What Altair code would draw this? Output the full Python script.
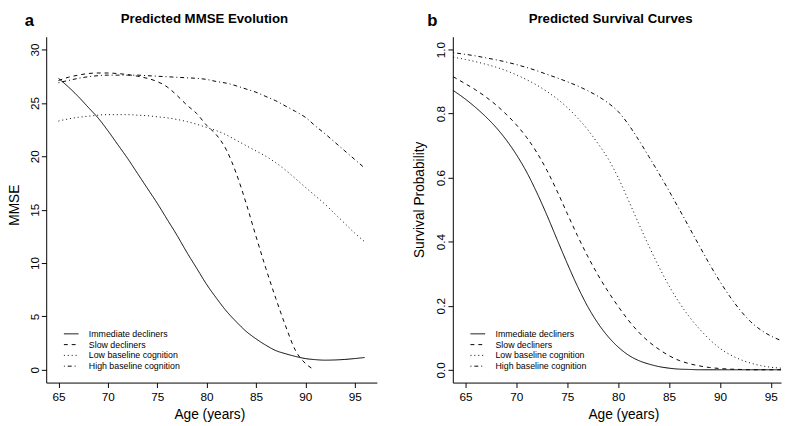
import altair as alt
import pandas as pd

FONT = "Liberation Sans"

groups = ["Immediate decliners", "Slow decliners", "Low baseline cognition", "High baseline cognition"]
dash_styles = [[1, 0], [4, 4], [1, 3], [1, 3, 4, 3]]

# ---- Panel a: predicted MMSE ----
mmse_age = list(range(65, 97))
mmse_immediate = [27.3, 26.5, 25.6, 24.6, 23.6, 22.4, 21.1, 19.8, 18.4, 17.0,
                  15.6, 14.1, 12.6, 11.0, 9.5, 8.0, 6.7, 5.5, 4.5, 3.6,
                  2.9, 2.3, 1.8, 1.5, 1.25, 1.05, 0.95, 0.9, 0.92, 0.97,
                  1.05, 1.15]
mmse_slow_age = list(range(65, 91)) + [90.8]
mmse_slow = [27.1, 27.4, 27.6, 27.75, 27.8, 27.8, 27.75, 27.65, 27.5, 27.3,
             27.0, 26.5, 25.7, 24.8, 24.0, 22.9, 22.0, 20.6, 18.4, 15.6,
             12.5, 9.5, 6.7, 4.1, 1.8, 0.6, 0.05]
mmse_low = [23.3, 23.5, 23.65, 23.75, 23.85, 23.9, 23.9, 23.9, 23.85, 23.8,
            23.7, 23.6, 23.45, 23.25, 23.0, 22.7, 22.4, 22.0, 21.5, 21.0,
            20.5, 20.0, 19.4, 18.7, 17.9, 17.1, 16.3, 15.5, 14.6, 13.7,
            12.8, 12.0]
mmse_high = [26.9, 27.1, 27.3, 27.45, 27.55, 27.6, 27.6, 27.6, 27.6, 27.55,
             27.5, 27.45, 27.4, 27.35, 27.3, 27.2, 27.0, 26.85, 26.6, 26.3,
             26.0, 25.6, 25.2, 24.7, 24.2, 23.65, 22.85, 22.1, 21.3, 20.5,
             19.7, 18.9]

# ---- Panel b: predicted survival ----
surv_age = [63.8] + list(range(65, 97))
surv_immediate = [0.872, 0.845, 0.819, 0.79, 0.757, 0.718, 0.672, 0.618, 0.554, 0.483,
                  0.407, 0.332, 0.261, 0.198, 0.146, 0.104, 0.071, 0.046, 0.029, 0.018,
                  0.01, 0.005, 0.002, 0.001, 0, 0, 0, 0, 0, 0,
                  0, 0, 0]
surv_slow = [0.915, 0.893, 0.874, 0.852, 0.827, 0.798, 0.765, 0.726, 0.679, 0.623,
             0.558, 0.488, 0.419, 0.355, 0.297, 0.245, 0.198, 0.155, 0.118, 0.088,
             0.064, 0.044, 0.029, 0.019, 0.012, 0.007, 0.004, 0.002, 0.001, 0,
             0, 0, 0]
surv_low = [0.976, 0.969, 0.962, 0.954, 0.945, 0.934, 0.921, 0.906, 0.889, 0.869,
            0.846, 0.819, 0.787, 0.75, 0.707, 0.66, 0.6, 0.53, 0.458, 0.388,
            0.322, 0.262, 0.21, 0.165, 0.127, 0.094, 0.067, 0.047, 0.032, 0.021,
            0.013, 0.008, 0.005]
surv_high = [0.99, 0.985, 0.98, 0.974, 0.968, 0.961, 0.953, 0.944, 0.934, 0.9225,
             0.9115, 0.8995, 0.8865, 0.8715, 0.8545, 0.8335, 0.8065, 0.7665, 0.7185, 0.6665,
             0.6135, 0.5585, 0.5015, 0.4435, 0.3855, 0.3285, 0.2755, 0.2275, 0.1855, 0.1505,
             0.1245, 0.1055, 0.0915]

x_ticks = [65, 70, 75, 80, 85, 90, 95]
mmse_ticks = [0, 5, 10, 15, 20, 25, 30]
surv_ticks = [0.0, 0.2, 0.4, 0.6, 0.8, 1.0]


def long_df(series):
    rows = []
    for g, ages, vals in series:
        for a, v in zip(ages, vals):
            rows.append({"age": a, "value": v, "group": g})
    return pd.DataFrame(rows)


mmse_df = long_df([
    (groups[0], mmse_age, mmse_immediate),
    (groups[1], mmse_slow_age, mmse_slow),
    (groups[2], mmse_age, mmse_low),
    (groups[3], mmse_age, mmse_high),
])
surv_df = long_df([
    (groups[0], surv_age, surv_immediate),
    (groups[1], surv_age, surv_slow),
    (groups[2], surv_age, surv_low),
    (groups[3], surv_age, surv_high),
])


def panel(df, x_dom, y_dom, y_ticks, y_fmt, y_title, y_title_x, y_title_y,
          x_title_x, title, title_x, letter, letter_x, width, height):
    xs = alt.Scale(domain=x_dom, nice=False, zero=False)
    ys = alt.Scale(domain=y_dom, nice=False, zero=False)
    x_axis = alt.Axis(values=x_ticks, title="Age (years)", domain=True, domainColor="black",
                      domainWidth=1, grid=False,
                      tickSize=5, tickColor="black", tickWidth=1,
                      labelFont=FONT, labelFontSize=12, labelPadding=4, labelColor="black",
                      labelFlush=False, labelOverlap=False,
                      titleFont=FONT, titleFontSize=14, titleFontWeight="normal",
                      titleColor="black", titleX=x_title_x, titleY=25.5,
                      titleBaseline="top", titleAlign="center")
    y_axis = alt.Axis(values=y_ticks, format=y_fmt, title=y_title, domain=True, domainColor="black",
                      domainWidth=1, grid=False,
                      tickSize=5, tickColor="black", tickWidth=1,
                      labelFont=FONT, labelFontSize=12, labelPadding=0, labelColor="black",
                      labelAngle=270, labelAlign="center", labelBaseline="bottom",
                      labelFlush=False, labelOverlap=False,
                      titleFont=FONT, titleFontSize=14, titleFontWeight="normal",
                      titleColor="black", titleAngle=270, titleX=y_title_x, titleY=y_title_y,
                      titleBaseline="bottom", titleAlign="center")
    legend = alt.Legend(orient="none", legendX=17.5, legendY=298, title=None,
                        symbolType="stroke", symbolSize=225, symbolStrokeWidth=1,
                        symbolStrokeColor="black", labelFont=FONT, labelFontSize=9,
                        labelColor="black", labelOffset=10, clipHeight=10.5,
                        rowPadding=0, padding=0, labelLimit=300)
    lines = alt.Chart(df).mark_line(color="black", strokeWidth=1,
                                    interpolate="monotone").encode(
        x=alt.X("age:Q", scale=xs, axis=x_axis),
        y=alt.Y("value:Q", scale=ys, axis=y_axis),
        strokeDash=alt.StrokeDash("group:N", scale=alt.Scale(domain=groups, range=dash_styles),
                                  legend=legend),
        order=alt.Order("age:Q"),
    )
    ttl = alt.Chart(pd.DataFrame({"t": [title]})).mark_text(
        font=FONT, fontSize=13.5, fontWeight="bold", align="center",
        baseline="alphabetic", color="black").encode(
        text="t:N", x=alt.value(title_x), y=alt.value(-13.5))
    let = alt.Chart(pd.DataFrame({"t": [letter]})).mark_text(
        font=FONT, fontSize=17, fontWeight="bold", align="left",
        baseline="alphabetic", color="black").encode(
        text="t:N", x=alt.value(letter_x), y=alt.value(-10.5))
    return alt.layer(lines, ttl, let).properties(width=width, height=height)


xext = 0.04 * (96 - 65)
x_dom_a = [65 - xext, 96 + xext]
x_dom_b = [65 - xext, 96.0]
y_dom_a = [0 - 0.04 * 30, 30 + 0.04 * 30]
y_dom_b = [0 - 0.04, 1 + 0.04]

left = panel(mmse_df, x_dom_a, y_dom_a, mmse_ticks, "d", "MMSE", -25, 171.5, 166.5,
             "Predicted MMSE Evolution", 161.5, "a", -21.8, 337.5, 353)
right = panel(surv_df, x_dom_b, y_dom_b, surv_ticks, ".1f", "Survival Probability", -26.7, 166, 174,
              "Predicted Survival Curves", 161, "b", -26, 335, 353)

chart = alt.hconcat(left, right, spacing=36).resolve_scale(
    strokeDash="independent").resolve_legend(strokeDash="independent").properties(
    padding={"left": 0, "top": 0, "right": 0, "bottom": 0}).configure_view(stroke=None)

chart.save("out.html", embed_options={"renderer": "svg", "actions": False})
